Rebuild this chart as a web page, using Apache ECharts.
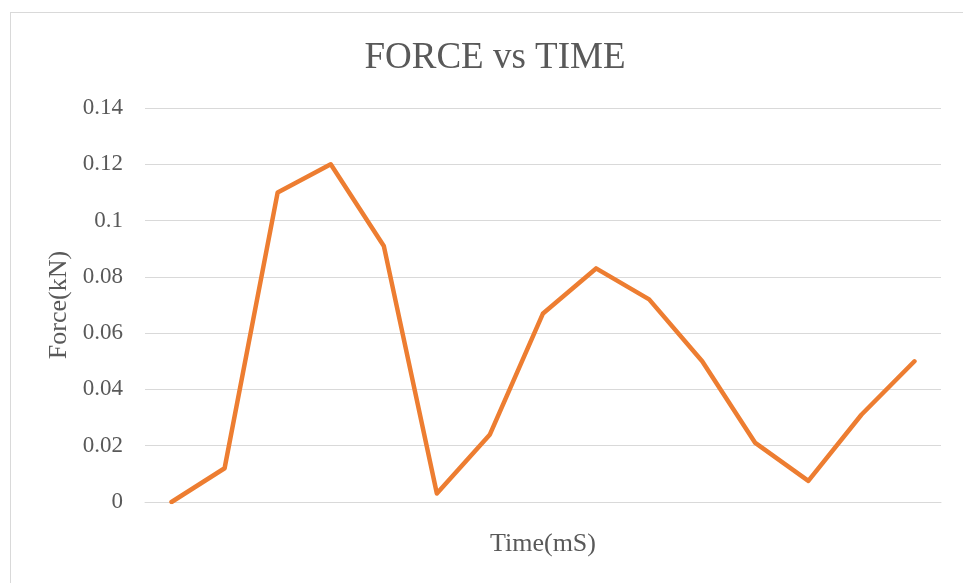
<!DOCTYPE html>
<html>
<head>
<meta charset="utf-8">
<script src="https://cdn.jsdelivr.net/npm/echarts@6/dist/echarts.min.js"></script>
<style>
  html, body { margin: 0; padding: 0; background: #fff; }
  #frame { position: absolute; left: 10px; top: 12px; width: 970px; height: 590px; border: 1px solid #d9d9d9; box-sizing: border-box; }
  #chart { position: absolute; left: 0; top: 0; width: 963px; height: 583px; }
</style>
</head>
<body>
<div id="frame"></div>
<div id="chart"></div>
<script>
// Sample index (time steps) and measured force in kN
const categories = ['1', '2', '3', '4', '5', '6', '7', '8', '9', '10', '11', '12', '13', '14', '15'];
const forceValues = [0, 0.012, 0.11, 0.12, 0.091, 0.003, 0.024, 0.067, 0.083, 0.072, 0.05, 0.021, 0.0075, 0.031, 0.05];
const yTicks = [0, 0.02, 0.04, 0.06, 0.08, 0.1, 0.12, 0.14];

const FONT = '"Liberation Serif", "Times New Roman", serif';
const chart = echarts.init(document.getElementById('chart'), null, { renderer: 'canvas' });

chart.setOption({
  animation: false,
  backgroundColor: 'transparent',
  title: {
    text: 'FORCE vs TIME',
    left: 490,
    top: 35,
    textAlign: 'center',
    textStyle: { fontFamily: FONT, fontSize: 37, fontWeight: 'normal', color: '#595959' }
  },
  grid: { left: 145, right: 22, top: 108, bottom: 81 },
  xAxis: {
    type: 'category',
    data: categories,
    boundaryGap: true,
    name: 'Time(mS)',
    nameLocation: 'middle',
    nameGap: 29,
    nameTextStyle: { fontFamily: FONT, fontSize: 26, color: '#595959' },
    axisLine: { show: true, lineStyle: { color: '#d9d9d9', width: 1 } },
    axisTick: { show: false },
    axisLabel: { show: false },
    splitLine: { show: false }
  },
  yAxis: {
    type: 'value',
    min: yTicks[0],
    max: yTicks[yTicks.length - 1],
    interval: 0.02,
    name: 'Force(kN)',
    nameLocation: 'middle',
    nameGap: 69,
    nameRotate: 90,
    nameTextStyle: { fontFamily: FONT, fontSize: 26, color: '#595959' },
    axisLine: { show: false },
    axisTick: { show: false },
    axisLabel: {
      fontFamily: FONT, fontSize: 23, color: '#595959', margin: 22,
      formatter: v => String(parseFloat(v.toFixed(4)))
    },
    splitLine: { show: true, lineStyle: { color: '#d9d9d9', width: 1 } }
  },
  series: [{
    type: 'line',
    data: forceValues,
    showSymbol: false,
    symbol: 'none',
    lineStyle: { color: '#ED7D31', width: 4.5, cap: 'round', join: 'round' },
    itemStyle: { color: '#ED7D31' }
  }]
});
</script>
</body>
</html>
